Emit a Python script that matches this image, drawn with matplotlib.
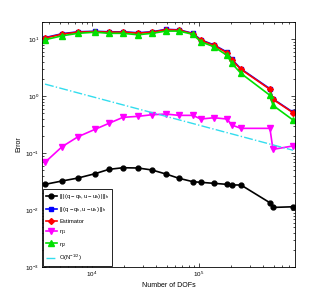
import matplotlib
matplotlib.use("Agg")
import matplotlib.pyplot as plt

plt.rcParams['font.family'] = ['Liberation Sans', 'DejaVu Sans']
plt.rcParams['mathtext.fontset'] = 'custom'
plt.rcParams['mathtext.rm'] = 'Liberation Sans'
plt.rcParams['mathtext.it'] = 'Liberation Sans'

# Number of DOFs
dofs = [3640, 5250, 7400, 10700, 14400, 19500, 26900, 36400, 49200, 65100,
        87900, 104000, 138000, 183000, 203000, 247000, 461000, 492000, 757000]

# errors / estimators
err_triple = [0.0282, 0.0323, 0.0364, 0.0434, 0.0517, 0.0552, 0.0546, 0.0504, 0.0428, 0.036,
              0.0314, 0.0306, 0.0294, 0.0282, 0.0275, 0.0275, 0.0134, 0.0111, 0.0114]
err_double = [10.6, 12.4, 13.4, 13.7, 13.4, 13.4, 12.9, 13.4, 14.8, 14.5,
              12.6, 9.7, 7.9, 5.9, 4.4, 3.0, 1.34, 0.89, 0.52]
estimator = [10.4, 12.2, 13.2, 13.5, 13.2, 13.2, 12.7, 13.2, 14.6, 14.3,
             12.4, 9.5, 7.75, 5.75, 4.28, 2.94, 1.31, 0.875, 0.51]
eta1 = [0.0687, 0.129, 0.193, 0.261, 0.332, 0.423, 0.440, 0.470, 0.483, 0.458,
        0.458, 0.395, 0.416, 0.395, 0.310, 0.271, 0.271, 0.116, 0.133]
eta2 = [9.72, 11.4, 12.6, 13.2, 12.6, 12.6, 11.9, 12.6, 13.8, 13.8,
        12.1, 8.97, 7.33, 5.17, 3.75, 2.5, 1.03, 0.687, 0.38]

# reference slope O(N^-1/2)
ref_x = [3640, 757000]
ref_y = [1.62, 0.112]

fig = plt.figure(figsize=(3.27, 3.0), dpi=100)
ax = fig.add_axes([0.128, 0.11, 0.774, 0.817])

lw = 1.2
ms = 3.5
ax.loglog(dofs, err_triple, '-o', color='black', lw=lw, ms=ms,
          label=r'$\mathrm{|||\,(q-q_h,u-u_h)\,|||_h}$')
ax.loglog(dofs, err_double, '-s', color='blue', lw=lw, ms=ms - 0.5,
          label=r'$\mathrm{||\,(q-q_h,u-u_h)\,||_h}$')
ax.loglog(dofs, estimator, '-D', color='red', lw=lw, ms=ms - 0.5,
          label='Estimator')
ax.loglog(dofs, eta1, '-v', color='magenta', lw=lw, ms=ms + 0.5,
          label=r'$\eta_1$')
ax.loglog(dofs, eta2, '-^', color='#00e000', lw=lw, ms=ms + 0.5,
          label=r'$\eta_2$')
ax.loglog(ref_x, ref_y, '-.', color='#33ddee', lw=1.0,
          label=r'$\mathrm{O(N^{-1/2})}$')

ax.set_xlim(3400, 790000)
ax.set_ylim(1e-3, 20)
ax.tick_params(which='both', direction='in', top=True, right=True,
               labelsize=4.5, width=0.5, pad=2)
ax.tick_params(which='major', length=3)
ax.tick_params(which='minor', length=1.5)
for s in ax.spines.values():
    s.set_linewidth(0.6)

ax.set_xlabel('Number of DOFs', fontsize=5, labelpad=2)
ax.set_ylabel('Error', fontsize=5, labelpad=2)

leg = ax.legend(loc='lower left', fontsize=4.2, frameon=True, fancybox=False,
                edgecolor='black', borderaxespad=0.15, handlelength=2.0,
                labelspacing=0.75, borderpad=0.5, handletextpad=0.3,
                framealpha=1)
leg.get_frame().set_linewidth(0.6)

fig.savefig('out.png', dpi=100)
